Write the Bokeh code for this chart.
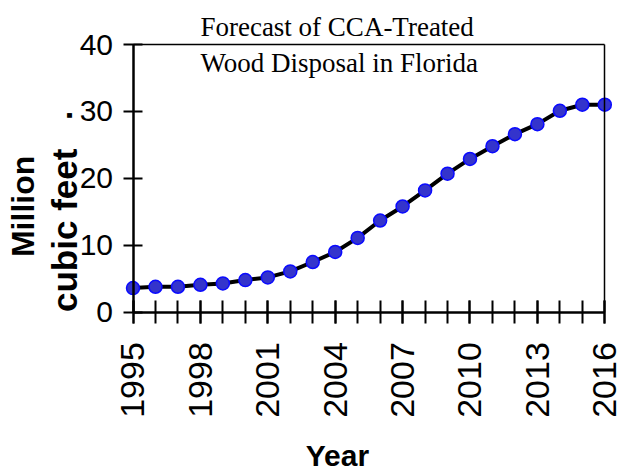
import math
from bokeh.plotting import figure
from bokeh.models import Range1d, LinearAxis, SingleIntervalTicker, FixedTicker, Label
from bokeh.embed import file_html
from bokeh.resources import INLINE

years = list(range(1995, 2017))
volume = [3.6, 3.8, 3.8, 4.1, 4.3, 4.8, 5.2, 6.1, 7.5, 9.0, 11.1,
          13.7, 15.8, 18.2, 20.7, 22.9, 24.8, 26.6, 28.1, 30.1, 31.0, 31.0]
y_ticks = [0, 10, 20, 30, 40]
title_lines = ["Forecast of CCA-Treated", "Wood Disposal in Florida"]
y_label_lines = ["Million", "cubic feet"]
x_label = "Year"

p = figure(width=624, height=471, output_backend="svg", toolbar_location=None,
           x_range=Range1d(1989.102, 2016.877), y_range=Range1d(-23.803, 46.575),
           min_border_left=0, min_border_right=0, min_border_top=0,
           min_border_bottom=0)
p.title.visible = False
p.outline_line_color = None
p.xgrid.visible = False
p.ygrid.visible = False
p.background_fill_color = "white"
p.border_fill_color = "white"

xa = p.xaxis[0]
xa.fixed_location = 0
xa.bounds = (1995, 2016)
xa.ticker = SingleIntervalTicker(interval=3, num_minor_ticks=3)
xa.axis_line_width = 2.5
xa.axis_line_color = "black"
xa.major_tick_in = 12
xa.major_tick_out = 11
xa.minor_tick_in = 12
xa.minor_tick_out = 11
xa.major_tick_line_width = 2
xa.minor_tick_line_width = 2
xa.major_tick_line_color = "black"
xa.minor_tick_line_color = "black"
xa.major_label_orientation = math.pi / 2
xa.major_label_text_font = "Liberation Sans"
xa.major_label_text_font_size = "34px"
xa.major_label_text_color = "black"
xa.major_label_standoff = 19

ya = p.yaxis[0]
ya.fixed_location = 1995
ya.bounds = (0, 40)
ya.ticker = FixedTicker(ticks=y_ticks)
ya.axis_line_width = 2.5
ya.axis_line_color = "black"
ya.major_tick_in = 9
ya.major_tick_out = 10
ya.minor_tick_in = 0
ya.minor_tick_out = 0
ya.major_tick_line_width = 2
ya.major_tick_line_color = "black"
ya.major_label_text_font = "Liberation Sans"
ya.major_label_text_font_size = "30px"
ya.major_label_text_color = "black"
ya.major_label_standoff = 10

top = LinearAxis(fixed_location=40, bounds=(1995, 2016), ticker=FixedTicker(ticks=[]),
                 axis_line_width=1.5, axis_line_color="black",
                 major_tick_in=0, major_tick_out=0, minor_tick_in=0, minor_tick_out=0,
                 major_label_text_font_size="0px")
p.add_layout(top, "above")
right = LinearAxis(fixed_location=2016, bounds=(0, 40), ticker=FixedTicker(ticks=[]),
                   axis_line_width=1.5, axis_line_color="black",
                   major_tick_in=0, major_tick_out=0, minor_tick_in=0, minor_tick_out=0,
                   major_label_text_font_size="0px")
p.add_layout(right, "right")

p.line(years, volume, line_color="black", line_width=4)
p.scatter(years, volume, size=13, fill_color="#3434cc", line_color="#0a0aff", line_width=1.5)

p.add_layout(Label(x=1998, y=42.69, text=title_lines[0], text_font="Liberation Serif",
                   text_font_size="27px", text_align="left", text_baseline="middle",
                   text_color="black"))
p.add_layout(Label(x=1998, y=37.19, text=title_lines[1], text_font="Liberation Serif",
                   text_font_size="27px", text_align="left", text_baseline="middle",
                   text_color="black"))
p.add_layout(Label(x=2004.1, y=-21.4, text=x_label, text_font="Liberation Sans",
                   text_font_style="bold", text_font_size="30px", text_align="center",
                   text_baseline="middle", text_color="black"))
p.add_layout(Label(x=1990.095, y=15.81, text=y_label_lines[0], angle=math.pi / 2,
                   text_font="Liberation Sans", text_font_style="bold",
                   text_font_size="32px", text_align="center", text_baseline="middle",
                   text_color="black"))
p.add_layout(Label(x=1991.951, y=12.24, text=y_label_lines[1], angle=math.pi / 2,
                   text_font="Liberation Sans", text_font_style="bold",
                   text_font_size="35px", text_align="center", text_baseline="middle",
                   text_color="black"))
p.add_layout(Label(x=1991.773, y=29.39, text=".", angle=math.pi / 2,
                   text_font="Liberation Sans", text_font_style="bold",
                   text_font_size="33px", text_align="center", text_baseline="middle",
                   text_color="black"))

open("out.html", "w").write(file_html(p, INLINE))
